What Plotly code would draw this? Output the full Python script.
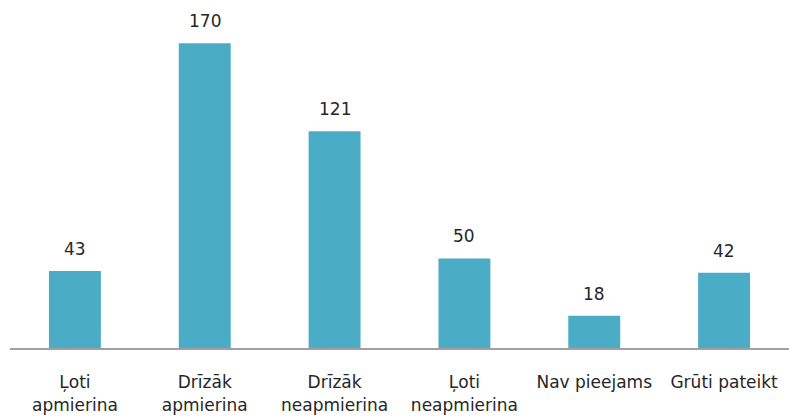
import plotly.graph_objects as go

categories = ["Ļoti<br>apmierina", "Drīzāk<br>apmierina", "Drīzāk<br>neapmierina",
              "Ļoti<br>neapmierina", "Nav pieejams", "Grūti pateikt"]
values = [43, 170, 121, 50, 18, 42]

font_family = "DejaVu Sans"
text_color = "#262626"

fig = go.Figure(go.Bar(x=categories, y=values, marker_color="#4BACC6",
                       marker_line_width=0, width=0.4))

for c, v in zip(categories, values):
    fig.add_annotation(x=c, y=v, text=str(v), showarrow=False, yanchor="bottom",
                       yshift=10, font=dict(family=font_family, size=17, color=text_color))

fig.update_layout(
    width=789, height=418,
    margin=dict(l=10, r=0, t=10, b=70),
    plot_bgcolor="white", paper_bgcolor="white",
    showlegend=False,
    bargap=0.6,
)
fig.update_xaxes(showline=True, linecolor="#A0A0A0", linewidth=2, tickangle=0,
                 ticks="outside", ticklen=18, tickcolor="rgba(0,0,0,0)",
                 tickfont=dict(family=font_family, size=17, color=text_color))
fig.update_yaxes(visible=False, range=[0, 188.6], showgrid=False)

fig.write_html("out.html", config={"displayModeBar": False},
               post_script="document.body.style.margin='0';document.body.style.overflow='hidden';")
